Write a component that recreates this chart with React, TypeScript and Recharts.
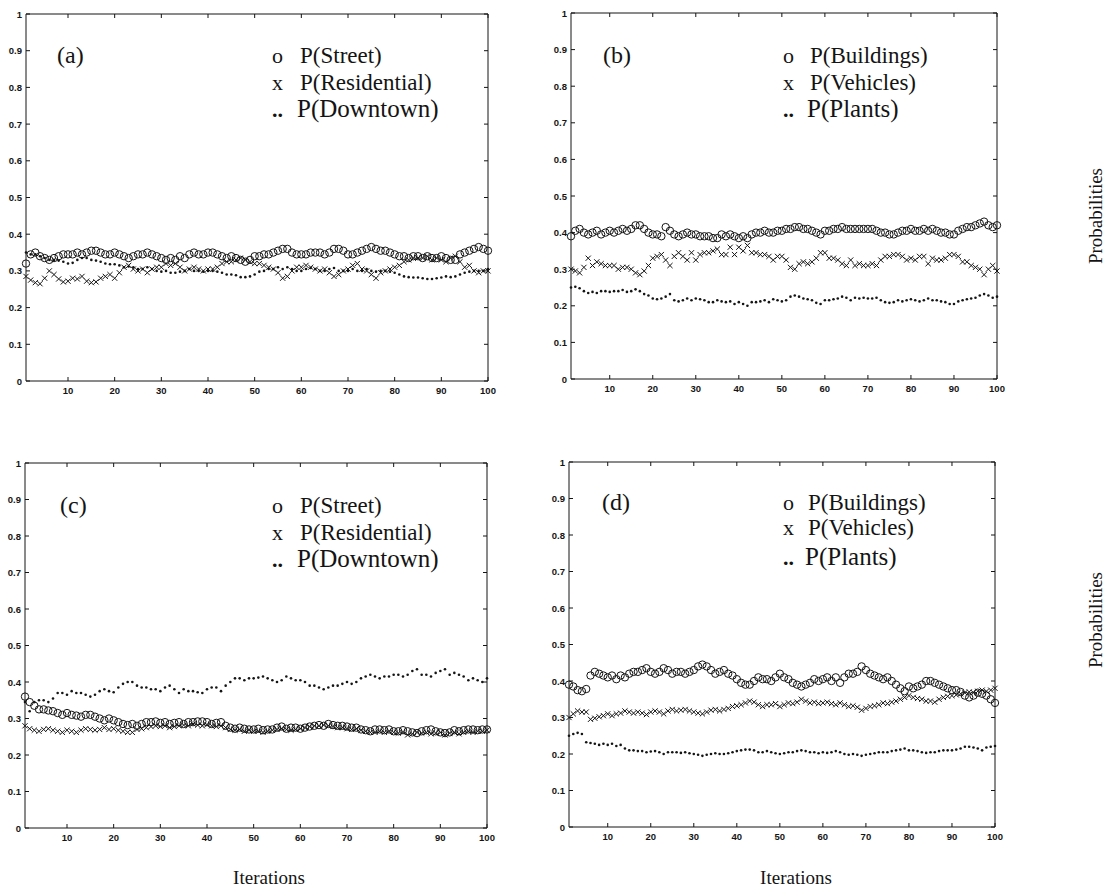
import { ReferenceLine, Scatter, ScatterChart, XAxis, YAxis } from "recharts";

const iterations = Array.from({ length: 100 }, (_, i) => i + 1);
const xTicks = [10, 20, 30, 40, 50, 60, 70, 80, 90, 100];
const yTicks = [0, 0.1, 0.2, 0.3, 0.4, 0.5, 0.6, 0.7, 0.8, 0.9, 1];

// (a)
const aStreet = [
  0.32, 0.345, 0.35, 0.34, 0.335, 0.33, 0.335, 0.34, 0.345, 0.345,
  0.345, 0.35, 0.345, 0.35, 0.355, 0.355, 0.35, 0.345, 0.345, 0.35,
  0.345, 0.34, 0.335, 0.34, 0.345, 0.345, 0.35, 0.345, 0.34, 0.335,
  0.33, 0.335, 0.33, 0.34, 0.335, 0.345, 0.35, 0.345, 0.345, 0.35,
  0.35, 0.345, 0.34, 0.335, 0.34, 0.335, 0.33, 0.325, 0.33, 0.34,
  0.34, 0.345, 0.345, 0.35, 0.355, 0.36, 0.36, 0.35, 0.345, 0.345,
  0.345, 0.35, 0.35, 0.35, 0.345, 0.35, 0.36, 0.36, 0.355, 0.345,
  0.345, 0.35, 0.355, 0.36, 0.365, 0.36, 0.355, 0.355, 0.35, 0.345,
  0.34, 0.34, 0.335, 0.34, 0.34, 0.335, 0.34, 0.335, 0.335, 0.34,
  0.335, 0.33, 0.33, 0.345, 0.35, 0.355, 0.36, 0.365, 0.36, 0.355,
];
const aResidential = [
  0.285, 0.275, 0.268, 0.265, 0.28, 0.3, 0.29, 0.278, 0.27, 0.272,
  0.28, 0.278, 0.285, 0.272, 0.268, 0.27, 0.28, 0.285, 0.29, 0.28,
  0.295, 0.31, 0.315, 0.305, 0.3, 0.305, 0.295, 0.305, 0.31, 0.31,
  0.32, 0.315, 0.32, 0.31, 0.3, 0.305, 0.31, 0.305, 0.3, 0.305,
  0.305, 0.31, 0.32, 0.325, 0.325, 0.33, 0.335, 0.33, 0.325, 0.32,
  0.32, 0.315, 0.31, 0.305, 0.295, 0.28, 0.285, 0.3, 0.31, 0.31,
  0.315, 0.31, 0.305, 0.3, 0.305, 0.295, 0.285, 0.29, 0.3, 0.305,
  0.315, 0.32, 0.305, 0.3, 0.29, 0.28, 0.295, 0.3, 0.305, 0.31,
  0.315, 0.325, 0.33, 0.335, 0.335, 0.335, 0.34, 0.33, 0.335, 0.33,
  0.325, 0.335, 0.34, 0.325, 0.31, 0.315, 0.3, 0.295, 0.3, 0.3,
];
const aDowntown = [
  0.35, 0.345, 0.345, 0.34, 0.335, 0.33, 0.33, 0.328, 0.325, 0.32,
  0.322, 0.33, 0.335, 0.335, 0.33, 0.328, 0.325, 0.32, 0.318, 0.318,
  0.315, 0.31, 0.312, 0.31, 0.305, 0.305, 0.31, 0.305, 0.3, 0.298,
  0.3, 0.295, 0.295, 0.298, 0.3, 0.305, 0.3, 0.3, 0.298, 0.3,
  0.3, 0.298, 0.295, 0.29, 0.29, 0.288, 0.283, 0.283, 0.285, 0.29,
  0.298, 0.3, 0.305, 0.305, 0.31, 0.305, 0.31, 0.305, 0.3, 0.3,
  0.305, 0.308, 0.305, 0.3, 0.3, 0.305, 0.308, 0.3, 0.3, 0.3,
  0.305, 0.3, 0.3, 0.305, 0.3, 0.298, 0.3, 0.3, 0.298, 0.295,
  0.29, 0.285, 0.283, 0.282, 0.282, 0.28, 0.278, 0.278, 0.28, 0.282,
  0.285, 0.283, 0.285, 0.29, 0.295, 0.298, 0.3, 0.3, 0.3, 0.305,
];

// (b)
const bBuildings = [
  0.39, 0.405, 0.41, 0.4, 0.395, 0.4, 0.405, 0.395, 0.4, 0.405,
  0.4, 0.405, 0.41, 0.405, 0.41, 0.42, 0.42, 0.41, 0.4, 0.395,
  0.395, 0.39, 0.415, 0.405, 0.395, 0.39, 0.395, 0.4, 0.395, 0.395,
  0.39, 0.39, 0.39, 0.385, 0.385, 0.395, 0.39, 0.395, 0.39, 0.385,
  0.39, 0.385, 0.395, 0.4, 0.4, 0.405, 0.4, 0.4, 0.405, 0.405,
  0.41, 0.41, 0.415, 0.415, 0.41, 0.41, 0.405, 0.4, 0.395, 0.405,
  0.405, 0.41, 0.41, 0.415, 0.41, 0.41, 0.41, 0.41, 0.41, 0.41,
  0.41, 0.405, 0.4, 0.4, 0.395, 0.395, 0.4, 0.405, 0.405, 0.41,
  0.405, 0.405, 0.41, 0.405, 0.41, 0.405, 0.4, 0.4, 0.395, 0.395,
  0.405, 0.41, 0.415, 0.415, 0.42, 0.425, 0.43, 0.42, 0.415, 0.42,
];
const bVehicles = [
  0.3, 0.295, 0.29, 0.305, 0.33, 0.31, 0.32, 0.315, 0.31, 0.31,
  0.31, 0.3, 0.305, 0.305, 0.3, 0.29, 0.285, 0.295, 0.31, 0.33,
  0.335, 0.34, 0.325, 0.31, 0.335, 0.345, 0.335, 0.325, 0.345, 0.325,
  0.34, 0.345, 0.345, 0.35, 0.355, 0.34, 0.34, 0.36, 0.34, 0.36,
  0.35, 0.365, 0.345, 0.345, 0.34, 0.34, 0.335, 0.325, 0.335, 0.335,
  0.325, 0.305, 0.3, 0.315, 0.32, 0.315, 0.32, 0.33, 0.345, 0.345,
  0.33, 0.33, 0.325, 0.315, 0.31, 0.325, 0.31, 0.315, 0.31, 0.31,
  0.315, 0.31, 0.325, 0.335, 0.335, 0.34, 0.34, 0.335, 0.325, 0.33,
  0.325, 0.335, 0.335, 0.315, 0.33, 0.325, 0.325, 0.33, 0.34, 0.34,
  0.335, 0.32, 0.32, 0.31, 0.305, 0.3, 0.285, 0.3, 0.31, 0.295,
];
const bPlants = [
  0.25, 0.252, 0.248, 0.24, 0.235, 0.238, 0.235, 0.24, 0.24, 0.238,
  0.24, 0.24, 0.243, 0.238, 0.24, 0.245, 0.24, 0.232, 0.228, 0.22,
  0.218, 0.22, 0.225, 0.232, 0.215, 0.212, 0.215, 0.22, 0.215, 0.22,
  0.218, 0.215, 0.21, 0.21, 0.215, 0.212, 0.21, 0.212, 0.205, 0.21,
  0.205, 0.2, 0.21, 0.21, 0.212, 0.215, 0.21, 0.218, 0.215, 0.212,
  0.215, 0.225, 0.228, 0.225, 0.22, 0.218, 0.215, 0.208, 0.205, 0.215,
  0.215, 0.218, 0.22, 0.225, 0.222, 0.215, 0.222, 0.22, 0.222, 0.22,
  0.22, 0.222, 0.215, 0.21, 0.208, 0.21, 0.215, 0.212, 0.215, 0.218,
  0.215, 0.212, 0.215, 0.22, 0.215, 0.215, 0.212, 0.21, 0.205, 0.205,
  0.212, 0.215, 0.218, 0.22, 0.222, 0.228, 0.232, 0.228, 0.222, 0.225,
];

// (c)
const cStreet = [
  0.36, 0.345, 0.335, 0.325, 0.325, 0.322, 0.32, 0.315, 0.31, 0.315,
  0.31, 0.308, 0.305, 0.31, 0.31, 0.305, 0.3, 0.295, 0.3, 0.295,
  0.29, 0.285, 0.282, 0.285, 0.28, 0.285, 0.29, 0.29, 0.292, 0.288,
  0.29, 0.285, 0.288, 0.29, 0.285, 0.29, 0.29, 0.292, 0.292, 0.29,
  0.285, 0.288, 0.29, 0.28, 0.275, 0.272, 0.275, 0.272, 0.27, 0.27,
  0.272, 0.268, 0.27, 0.27, 0.275, 0.278, 0.272, 0.275, 0.275, 0.272,
  0.275, 0.278, 0.28, 0.282, 0.28, 0.285, 0.282, 0.28, 0.28, 0.278,
  0.275, 0.275, 0.27, 0.268, 0.265, 0.27, 0.27, 0.268, 0.27, 0.265,
  0.265, 0.268, 0.265, 0.262, 0.26, 0.265, 0.268, 0.27, 0.265, 0.262,
  0.26, 0.262, 0.268, 0.265, 0.268, 0.27, 0.27, 0.268, 0.27, 0.27,
];
const cResidential = [
  0.28, 0.272, 0.268, 0.265, 0.27, 0.272, 0.268, 0.265, 0.262, 0.268,
  0.265, 0.262, 0.268, 0.272, 0.27, 0.268, 0.27, 0.275, 0.27, 0.272,
  0.268, 0.265, 0.262, 0.262, 0.27, 0.272, 0.275, 0.278, 0.28, 0.278,
  0.28, 0.275, 0.278, 0.28, 0.282, 0.28, 0.285, 0.282, 0.28, 0.283,
  0.28, 0.278, 0.28, 0.275, 0.27, 0.268, 0.27, 0.265, 0.268, 0.265,
  0.265, 0.262, 0.265, 0.268, 0.27, 0.272, 0.27, 0.268, 0.27, 0.272,
  0.275, 0.278, 0.28, 0.28, 0.282, 0.28, 0.278, 0.275, 0.275, 0.272,
  0.27, 0.272, 0.268, 0.265, 0.262, 0.262, 0.265, 0.262, 0.265, 0.262,
  0.26, 0.262, 0.255, 0.258, 0.262, 0.26, 0.262, 0.258, 0.26, 0.262,
  0.255, 0.26, 0.262, 0.258, 0.262, 0.265, 0.262, 0.265, 0.265, 0.268,
];
const cDowntown = [
  0.345, 0.32, 0.345, 0.35, 0.35, 0.345, 0.355, 0.37, 0.37, 0.365,
  0.375, 0.37, 0.37, 0.365, 0.36, 0.365, 0.375, 0.38, 0.375, 0.372,
  0.385, 0.395, 0.4, 0.4, 0.39, 0.385, 0.385, 0.38, 0.38, 0.375,
  0.385, 0.39, 0.38, 0.37, 0.38, 0.375, 0.375, 0.372, 0.37, 0.38,
  0.385, 0.385, 0.375, 0.39, 0.4, 0.41, 0.41, 0.405, 0.41, 0.41,
  0.412, 0.415, 0.41, 0.405, 0.4, 0.405, 0.415, 0.41, 0.405, 0.405,
  0.4, 0.39, 0.39, 0.385, 0.38, 0.385, 0.39, 0.39, 0.395, 0.4,
  0.395, 0.4, 0.41, 0.415, 0.42, 0.415, 0.41, 0.415, 0.415, 0.42,
  0.42, 0.415, 0.42, 0.43, 0.435, 0.42, 0.42, 0.415, 0.425, 0.43,
  0.435, 0.42, 0.425, 0.42, 0.415, 0.405, 0.41, 0.405, 0.4, 0.41,
];

// (d)
const dBuildings = [
  0.39, 0.385, 0.375, 0.372, 0.378, 0.415, 0.425, 0.42, 0.415, 0.41,
  0.415, 0.405, 0.415, 0.41, 0.42, 0.425, 0.425, 0.43, 0.435, 0.425,
  0.42, 0.425, 0.435, 0.43, 0.42, 0.425, 0.425, 0.42, 0.425, 0.43,
  0.44, 0.445, 0.44, 0.43, 0.42, 0.425, 0.43, 0.42, 0.415, 0.405,
  0.395, 0.39, 0.39, 0.4, 0.41, 0.405, 0.405, 0.4, 0.41, 0.42,
  0.41, 0.405, 0.395, 0.39, 0.385, 0.39, 0.395, 0.405, 0.4, 0.405,
  0.41, 0.4, 0.41, 0.395, 0.41, 0.42, 0.42, 0.425, 0.44, 0.43,
  0.42, 0.415, 0.41, 0.405, 0.41, 0.4, 0.39, 0.38, 0.372, 0.385,
  0.38, 0.385, 0.39, 0.4, 0.4, 0.395, 0.39, 0.385, 0.38, 0.375,
  0.375, 0.37, 0.36, 0.355, 0.36, 0.368, 0.365, 0.36, 0.35, 0.34,
];
const dVehicles = [
  0.3, 0.31, 0.318, 0.315, 0.315, 0.295, 0.298, 0.302, 0.305, 0.31,
  0.305, 0.31, 0.312, 0.318, 0.315, 0.312, 0.315, 0.312, 0.308, 0.315,
  0.318, 0.315, 0.31, 0.318, 0.322, 0.318, 0.32, 0.322, 0.318, 0.315,
  0.312, 0.31, 0.315, 0.32, 0.322, 0.318, 0.322, 0.325, 0.33, 0.332,
  0.335, 0.34, 0.345, 0.342, 0.335, 0.33, 0.335, 0.335, 0.338, 0.33,
  0.335, 0.34, 0.338, 0.342, 0.35, 0.345, 0.34, 0.342, 0.338, 0.34,
  0.342, 0.338, 0.335, 0.34, 0.335, 0.33, 0.332, 0.328, 0.32, 0.325,
  0.33, 0.332, 0.335, 0.34, 0.338, 0.342, 0.345, 0.35, 0.355, 0.36,
  0.355, 0.352, 0.35, 0.345, 0.345, 0.342, 0.35, 0.355, 0.358, 0.36,
  0.362, 0.365, 0.368, 0.37, 0.368, 0.372, 0.375, 0.372, 0.375, 0.38,
];
const dPlants = [
  0.25, 0.255, 0.258, 0.255, 0.232, 0.23, 0.228, 0.225, 0.228, 0.225,
  0.228, 0.222, 0.225, 0.215, 0.21, 0.21, 0.208, 0.208, 0.205, 0.207,
  0.208, 0.205, 0.2, 0.205, 0.205, 0.205, 0.203, 0.205, 0.202, 0.2,
  0.198, 0.195, 0.198, 0.2, 0.202, 0.2, 0.2, 0.202, 0.205, 0.208,
  0.21, 0.212, 0.212, 0.21, 0.205, 0.205, 0.208, 0.205, 0.202, 0.2,
  0.202, 0.205, 0.205, 0.208, 0.21, 0.208, 0.205, 0.205, 0.202, 0.205,
  0.203, 0.205, 0.208, 0.205, 0.2, 0.198, 0.2, 0.198, 0.195, 0.198,
  0.2, 0.202, 0.205, 0.205, 0.205, 0.208, 0.21, 0.212, 0.215, 0.21,
  0.21, 0.208, 0.205, 0.203, 0.205, 0.205, 0.208, 0.21, 0.21, 0.21,
  0.212, 0.215, 0.22, 0.22, 0.218, 0.215, 0.21, 0.218, 0.22, 0.222,
];

const INK = "#141414";
const SERIF = "'Liberation Serif', 'Times New Roman', serif";
const SANS = "'Liberation Sans', Arial, sans-serif";
const YW = 30;
const PAD_T = 6;
const XH = 22;

const Ring = ({ cx, cy }: any) => (
  <circle cx={cx} cy={cy} r={3.7} fill="none" stroke={INK} strokeWidth={1} />
);
const Cross = ({ cx, cy }: any) => (
  <path
    d={`M${cx - 2.6},${cy - 2.6}L${cx + 2.6},${cy + 2.6}M${cx - 2.6},${cy + 2.6}L${cx + 2.6},${cy - 2.6}`}
    stroke={INK}
    strokeWidth={1}
  />
);
const Dot = ({ cx, cy }: any) => <circle cx={cx} cy={cy} r={1.3} fill={INK} />;

const toPoints = (vals: number[]) => vals.map((v, i) => ({ x: iterations[i], y: v }));

function Panel({ left, top, width, height, series }: any) {
  const chartW = YW + width + 12;
  const chartH = PAD_T + height + XH;
  const plotBottom = PAD_T + height;
  return (
    <div style={{ position: "absolute", left: left - YW, top: top - PAD_T, width: chartW, height: chartH }}>
      <ScatterChart width={chartW} height={chartH} margin={{ top: PAD_T, right: 12, bottom: 0, left: 0 }}>
        <XAxis
          type="number"
          dataKey="x"
          domain={[1, 100]}
          ticks={xTicks}
          interval={0}
          height={XH}
          axisLine={{ stroke: INK }}
          tickLine={false}
          tick={({ x, payload }: any) => (
            <g>
              <line x1={x} x2={x} y1={plotBottom} y2={plotBottom - 4} stroke={INK} />
              <line x1={x} x2={x} y1={PAD_T} y2={PAD_T + 4} stroke={INK} />
              <text x={x} y={plotBottom + 13} textAnchor="middle" fontFamily={SANS} fontWeight="bold" fontSize={9.5} fill={INK}>
                {payload.value}
              </text>
            </g>
          )}
        />
        <YAxis
          type="number"
          dataKey="y"
          domain={[0, 1]}
          ticks={yTicks}
          interval={0}
          width={YW}
          axisLine={{ stroke: INK }}
          tickLine={false}
          tick={({ y, payload }: any) => (
            <g>
              <line x1={YW} x2={YW + 4} y1={y} y2={y} stroke={INK} />
              <line x1={YW + width - 4} x2={YW + width} y1={y} y2={y} stroke={INK} />
              <text x={YW - 4} y={y + 3.5} textAnchor="end" fontFamily={SANS} fontWeight="bold" fontSize={9.5} fill={INK}>
                {payload.value === 0 || payload.value === 1 ? payload.value : payload.value.toFixed(1)}
              </text>
            </g>
          )}
        />
        <ReferenceLine y={1} stroke={INK} />
        <ReferenceLine x={100} stroke={INK} />
        {series.map((s: any) => (
          <Scatter key={s.name} name={s.name} data={toPoints(s.values)} shape={s.shape} isAnimationActive={false} />
        ))}
      </ScatterChart>
    </div>
  );
}

const streetSeries = (o: number[], x: number[], d: number[]) => [
  { name: "P(Street)", values: o, shape: Ring },
  { name: "P(Residential)", values: x, shape: Cross },
  { name: "P(Downtown)", values: d, shape: Dot },
];
const objectSeries = (o: number[], x: number[], d: number[]) => [
  { name: "P(Buildings)", values: o, shape: Ring },
  { name: "P(Vehicles)", values: x, shape: Cross },
  { name: "P(Plants)", values: d, shape: Dot },
];

const legends = [
  { tag: "(a)", tagX: 57, symX: 272, textX: 300, rows: [63, 90, 117], names: ["P(Street)", "P(Residential)", "P(Downtown)"] },
  { tag: "(b)", tagX: 603, symX: 783, textX: 810, rows: [63, 90, 117], names: ["P(Buildings)", "P(Vehicles)", "P(Plants)"] },
  { tag: "(c)", tagX: 60, symX: 272, textX: 300, rows: [513, 540, 567], names: ["P(Street)", "P(Residential)", "P(Downtown)"] },
  { tag: "(d)", tagX: 602, symX: 783, textX: 808, rows: [510, 535, 565], names: ["P(Buildings)", "P(Vehicles)", "P(Plants)"] },
];
const symbols = ["o", "x", ".."];

export default function App() {
  return (
    <div style={{ position: "absolute", left: 0, top: 0, width: 1107, height: 890, background: "#fff", overflow: "hidden" }}>
      <Panel left={26} top={14} width={462} height={367} series={streetSeries(aStreet, aResidential, aDowntown)} />
      <Panel left={571} top={13} width={426} height={366} series={objectSeries(bBuildings, bVehicles, bPlants)} />
      <Panel left={25} top={463} width={462} height={365} series={streetSeries(cStreet, cResidential, cDowntown)} />
      <Panel left={569} top={462} width={426} height={365} series={objectSeries(dBuildings, dVehicles, dPlants)} />
      <svg width={1107} height={890} style={{ position: "absolute", left: 0, top: 0, pointerEvents: "none" }}>
        {legends.map((l) => (
          <g key={l.tag} fontFamily={SERIF} fill={INK}>
            <text x={l.tagX} y={l.rows[0]} fontSize={24}>{l.tag}</text>
            {l.names.map((n, i) => (
              <g key={n}>
                <text x={l.symX} y={l.rows[i]} fontSize={22} fontWeight={i === 2 ? "bold" : "normal"}>{symbols[i]}</text>
                <text x={i === 2 ? l.textX - 3 : l.textX} y={l.rows[i]} fontSize={i === 2 ? 25 : 23}>{n}</text>
              </g>
            ))}
          </g>
        ))}
        <text x={269} y={884} textAnchor="middle" fontFamily={SERIF} fontSize={19} fill={INK}>Iterations</text>
        <text x={796} y={884} textAnchor="middle" fontFamily={SERIF} fontSize={19} fill={INK}>Iterations</text>
        <text transform="translate(1102,216) rotate(-90)" textAnchor="middle" fontFamily={SERIF} fontSize={19} fill={INK}>Probabilities</text>
        <text transform="translate(1102,620) rotate(-90)" textAnchor="middle" fontFamily={SERIF} fontSize={19} fill={INK}>Probabilities</text>
      </svg>
    </div>
  );
}
